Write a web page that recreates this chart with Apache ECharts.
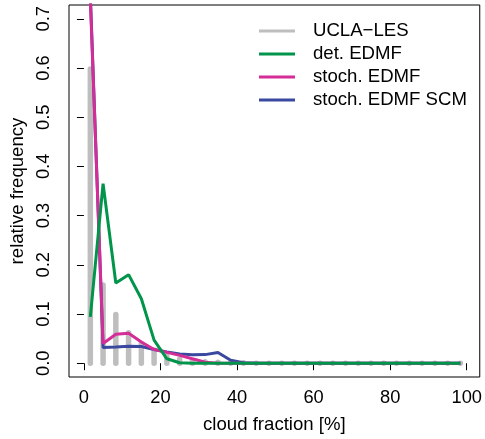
<!DOCTYPE html>
<html><head><meta charset="utf-8">
<script src="https://cdn.jsdelivr.net/npm/echarts@6/dist/echarts.min.js"></script>
<style>html,body{margin:0;padding:0;background:#fff}#c{width:485px;height:439px}</style>
</head><body><div id="c"></div>
<script>
// bin centres of cloud fraction [%]
var binCenters = [1.67, 5, 8.33, 11.67, 15, 18.33, 21.67, 25, 28.33, 31.67, 35, 38.33, 41.67, 45, 48.33,
  51.67, 55, 58.33, 61.67, 65, 68.33, 71.67, 75, 78.33, 81.67, 85, 88.33, 91.67, 95, 98.33];
var uclaLes = [0.598, 0.159, 0.099, 0.062, 0.040, 0.027, 0.014, 0.008, 0.005, 0.003, 0.002, 0.001, 0.001, 0, 0,
  0, 0, 0, 0, 0, 0, 0, 0, 0, 0, 0, 0, 0, 0, 0];
var detEdmf = [0.094, 0.365, 0.163, 0.180, 0.131, 0.047, 0.009, 0.001, 0, 0, 0, 0, 0, 0, 0,
  0, 0, 0, 0, 0, 0, 0, 0, 0, 0, 0, 0, 0, 0, 0];
var stochEdmf = [0.74, 0.040, 0.059, 0.061, 0.043, 0.028, 0.022, 0.016, 0.009, 0.002, 0, 0, 0, 0, 0,
  0, 0, 0, 0, 0, 0, 0, 0, 0, 0, 0, 0, 0, 0, 0];
var stochScm = [0.75, 0.032, 0.033, 0.0345, 0.034, 0.028, 0.023, 0.019, 0.017, 0.0175, 0.0217, 0.006, 0.001, 0, 0,
  0, 0, 0, 0, 0, 0, 0, 0, 0, 0, 0, 0, 0, 0, 0];
var xTicks = [0, 20, 40, 60, 80, 100];
var yTicks = [0, 0.1, 0.2, 0.3, 0.4, 0.5, 0.6, 0.7];
var seriesNames = ['UCLA\u2212LES', 'det. EDMF', 'stoch. EDMF', 'stoch. EDMF SCM'];
var colors = ['#BEBEBE', '#00954A', '#D42D97', '#3A489F'];

function pairs(vals) { return binCenters.map(function (x, i) { return [x, vals[i]]; }); }

var FONT = 'Liberation Sans, Arial, Helvetica, sans-serif';
var chart = echarts.init(document.getElementById('c'), null, {renderer: 'canvas'});
chart.setOption({
  animation: false,
  backgroundColor: '#fff',
  textStyle: {fontFamily: FONT},
  grid: {left: 69, right: 4, top: 5, bottom: 61, show: true, borderColor: '#000', borderWidth: 1, backgroundColor: 'transparent'},
  legend: {
    orient: 'vertical', left: 254, top: 16,
    data: seriesNames,
    icon: 'rect', itemWidth: 36, itemHeight: 3, itemGap: 3,
    textStyle: {fontSize: 18.6, color: '#000', fontFamily: FONT, lineHeight: 20, padding: [0, 0, 0, 13]}
  },
  xAxis: {
    type: 'value', min: -3.9, max: 103.4,
    splitLine: {show: false}, axisLine: {show: false},
    axisTick: {show: true, inside: false, length: 7, lineStyle: {color: '#000'}, customValues: xTicks},
    axisLabel: {customValues: xTicks, fontSize: 18.3, color: '#000', margin: 12, fontFamily: FONT},
    name: 'cloud fraction [%]', nameLocation: 'middle', nameGap: 38,
    nameTextStyle: {fontSize: 18.6, color: '#000', fontFamily: FONT}
  },
  yAxis: {
    type: 'value', min: -0.028, max: 0.728,
    splitLine: {show: false}, axisLine: {show: false},
    axisTick: {show: true, inside: false, length: 7, lineStyle: {color: '#000'}, customValues: yTicks},
    axisLabel: {customValues: yTicks, fontSize: 18.3, color: '#000', rotate: 90, margin: 16, fontFamily: FONT,
      formatter: function (v) { return v.toFixed(1); }},
    name: 'relative frequency', nameLocation: 'middle', nameGap: 35, nameRotate: 90,
    nameTextStyle: {fontSize: 18.6, color: '#000', fontFamily: FONT}
  },
  series: [
    {
      name: seriesNames[0], type: 'custom', z: 1,
      itemStyle: {color: colors[0]},
      data: pairs(uclaLes),
      renderItem: function (params, api) {
        var p0 = api.coord([api.value(0), 0]);
        var p1 = api.coord([api.value(0), api.value(1)]);
        var w = 5.5;
        return {type: 'rect',
          shape: {x: p0[0] - w / 2, y: p1[1] - w / 2, width: w, height: (p0[1] - p1[1]) + w, r: w / 2},
          style: {fill: colors[0]}};
      }
    },
    {name: seriesNames[3], type: 'line', z: 2, data: pairs(stochScm), showSymbol: false, symbol: 'none', clip: true,
      itemStyle: {color: colors[3]}, lineStyle: {color: colors[3], width: 3}},
    {name: seriesNames[2], type: 'line', z: 3, data: pairs(stochEdmf), showSymbol: false, symbol: 'none', clip: true,
      itemStyle: {color: colors[2]}, lineStyle: {color: colors[2], width: 3}},
    {name: seriesNames[1], type: 'line', z: 4, data: pairs(detEdmf), showSymbol: false, symbol: 'none', clip: true,
      itemStyle: {color: colors[1]}, lineStyle: {color: colors[1], width: 3}}
  ]
});
</script></body></html>
